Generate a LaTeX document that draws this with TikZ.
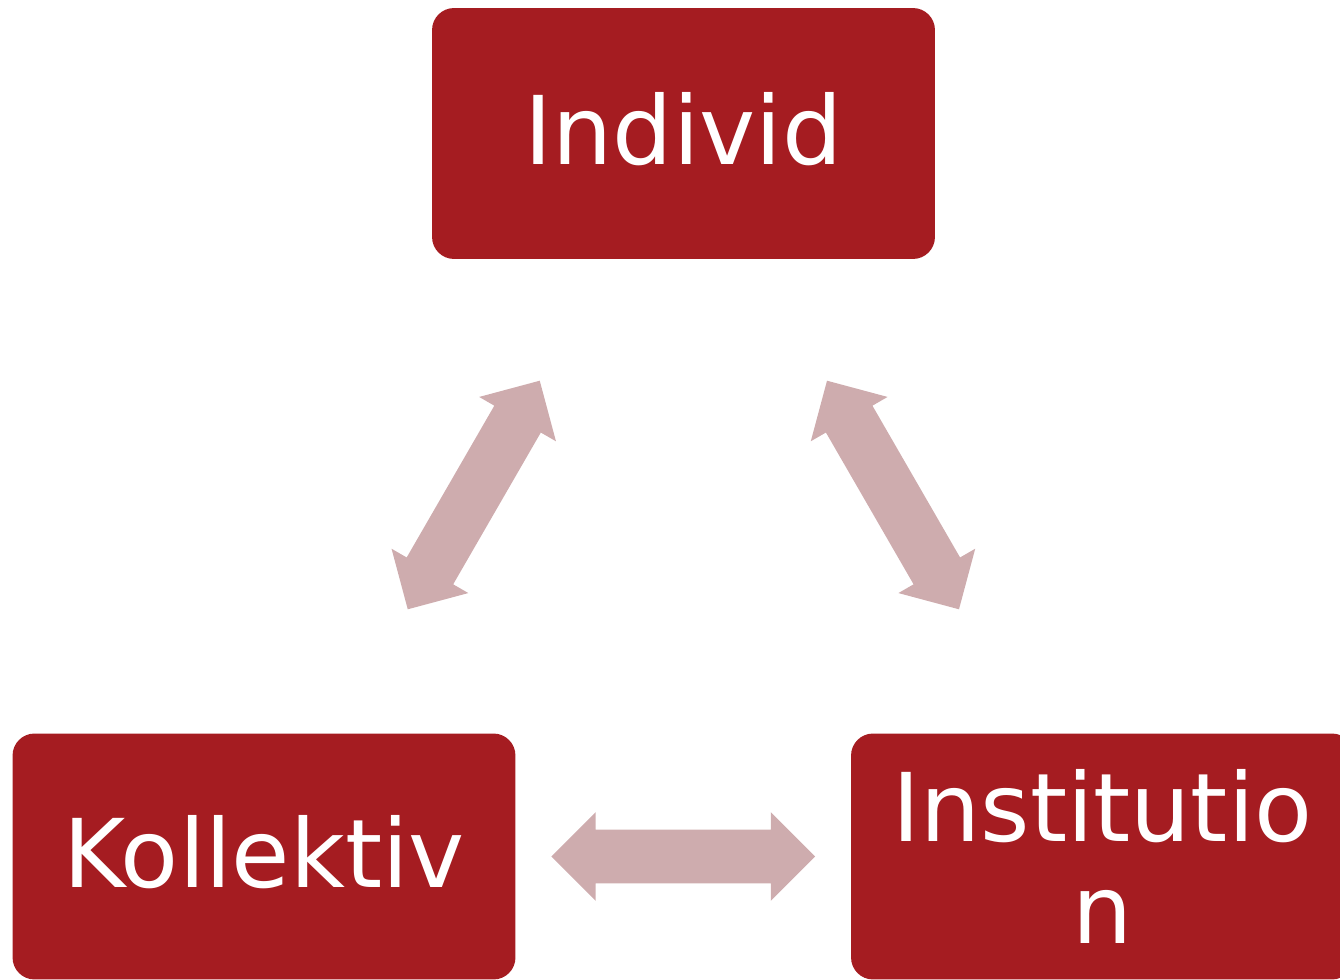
\documentclass[tikz,border=0pt]{standalone}
\usepackage{fontspec}
\setmainfont{DejaVu Sans}
\usetikzlibrary{shapes.arrows,calc}
\definecolor{boxred}{HTML}{A51C21}
\definecolor{linkpink}{HTML}{CEACAE}
\begin{document}
\begin{tikzpicture}[x=0.02cm, y=-0.02cm, line join=round,
		box/.style={fill=boxred, text=white, rounded corners=0.44cm, inner sep=0pt, align=center,
			minimum width=10.06cm, minimum height=5.02cm, font=\fontsize{54}{58}\selectfont},
		oneline/.style={text depth=6pt},
		link/.style={double arrow, fill=linkpink, inner xsep=0pt, inner ysep=0.53cm, minimum height=5.28cm,
			double arrow head extend=0.35cm, double arrow tip angle=90}]
	\useasboundingbox (0,0) rectangle (1340,980);
	\clip (0,0) rectangle (1340,980);
	% boxes
	\node[box, oneline] (ind) at (683.5,133.5) {Individ};
	\node[box, oneline, minimum height=4.92cm] (kol) at (264,856.5) {Kollektiv};
	\node[box, minimum height=4.92cm] (inst) at (1102.5,856.5) {Institutio\\n};
	% arrows between the boxes
	\node[link, rotate=60] (indkol) at ($(ind)!0.5!(kol)$) {};
	\node[link, rotate=-60] (indinst) at ($(ind)!0.5!(inst)$) {};
	\node[link] (kolinst) at ($(kol)!0.5!(inst)$) {};
\end{tikzpicture}
\end{document}
